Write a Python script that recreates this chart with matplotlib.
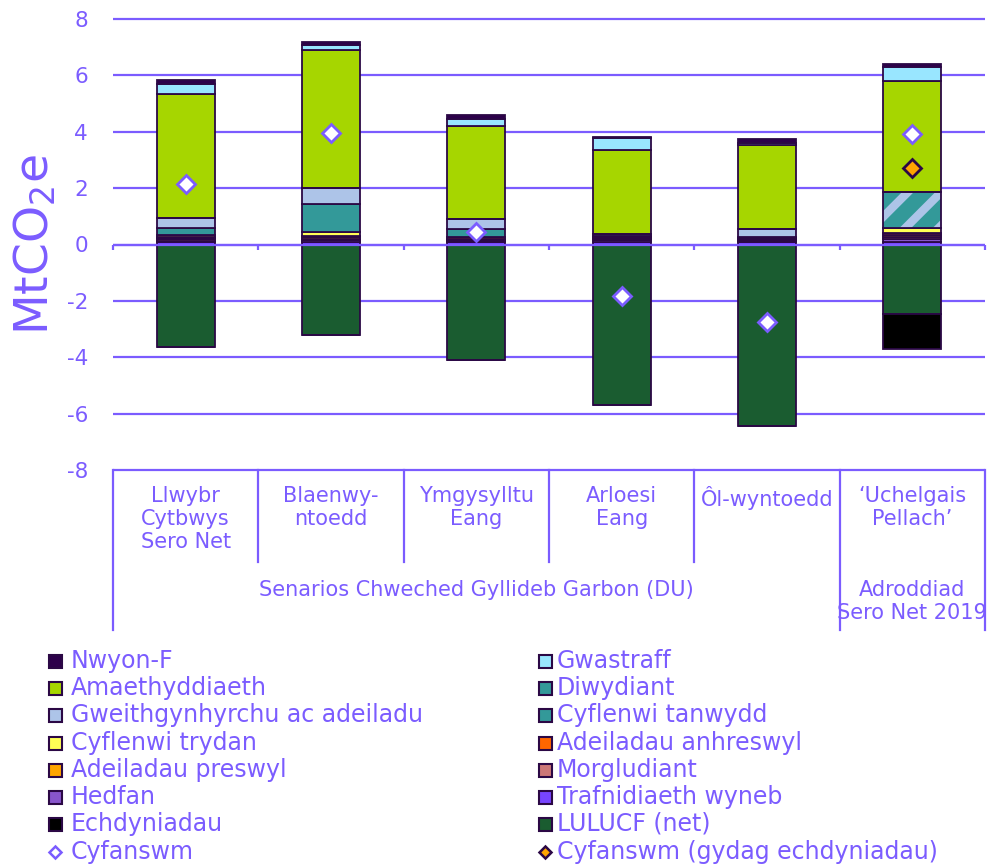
import numpy as np
import matplotlib
matplotlib.use("Agg")
import matplotlib.pyplot as plt
from matplotlib.patches import Rectangle
from matplotlib.lines import Line2D
from matplotlib.transforms import blended_transform_factory

plt.rcParams['font.family'] = ['DejaVu Sans']
plt.rcParams['hatch.linewidth'] = 6

# ---------------- data ----------------
categories = ["Llwybr\nCytbwys\nSero Net", "Blaenwy-\nntoedd", "Ymgysylltu\nEang",
              "Arloesi\nEang", "Ôl-wyntoedd", "‘Uchelgais\nPellach’"]
groups = ["Senarios Chweched Gyllideb Garbon (DU)", "Adroddiad\nSero Net 2019"]
group_spans = [(0, 5), (5, 6)]

# positive sectors, stacked bottom-up
traf      = [0.08, 0.10, 0.08, 0.10, 0.08, 0.10]
hedfan    = [0.06, 0.06, 0.05, 0.06, 0.05, 0.10]
morg      = [0.04, 0.04, 0.04, 0.04, 0.03, 0.07]
preswyl   = [0.04, 0.05, 0.04, 0.04, 0.02, 0.08]
anhreswyl = [0.04, 0.05, 0.04, 0.04, 0.02, 0.05]
trydan    = [0.08, 0.15, 0.02, 0.02, 0.02, 0.18]
tanwydd   = [0.25, 0.98, 0.27, 0.06, 0.06, 0.00]
gweith    = [0.36, 0.59, 0.35, 0.02, 0.26, 0.00]
diwydiant = [0.00, 0.00, 0.00, 0.00, 0.00, 1.28]
amaeth    = [4.38, 4.87, 3.30, 2.96, 2.98, 3.93]
gwastraff = [0.38, 0.20, 0.27, 0.44, 0.09, 0.52]
nwyon_f   = [0.12, 0.10, 0.12, 0.04, 0.13, 0.08]
# negative
lulucf      = [-3.64, -3.21, -4.10, -5.69, -6.44, -2.48]
echdyniadau = [0.00, 0.00, 0.00, 0.00, 0.00, -1.23]
# totals
cyfanswm = [2.15, 3.96, 0.44, -1.83, -2.75, 3.92]
cyfanswm_echd = [np.nan, np.nan, np.nan, np.nan, np.nan, 2.71]

VIOLET = '#7B5CFF'
EDGE = '#2B0845'

pos_series = [
    ("Trafnidiaeth wyneb", traf, '#7744FF'),
    ("Hedfan", hedfan, '#8855CC'),
    ("Morgludiant", morg, '#CC7777'),
    ("Adeiladau preswyl", preswyl, '#FFA500'),
    ("Adeiladau anhreswyl", anhreswyl, '#FF6600'),
    ("Cyflenwi trydan", trydan, '#FFFF55'),
    ("Cyflenwi tanwydd", tanwydd, '#339999'),
    ("Gweithgynhyrchu ac adeiladu", gweith, '#ADC4E8'),
    ("Diwydiant", diwydiant, '#339999'),
    ("Amaethyddiaeth", amaeth, '#A6D600'),
    ("Gwastraff", gwastraff, '#99E6FF'),
    ("Nwyon-F", nwyon_f, '#2D004B'),
]
neg_series = [
    ("LULUCF (net)", lulucf, '#1A5C30'),
    ("Echdyniadau", echdyniadau, '#000000'),
]
colors = {n: c for n, _, c in pos_series + neg_series}

W, H = 998, 867
fig = plt.figure(figsize=(W / 100, H / 100), dpi=100)
ax = fig.add_axes([113 / W, 1 - 470 / H, (985 - 113) / W, (470 - 19) / H])
ax.set_xlim(0, 6)
ax.set_ylim(-8, 8)
for s in ax.spines.values():
    s.set_visible(False)

x = np.arange(len(categories)) + 0.5
bw = 0.4

yt = np.arange(-8, 9, 2)
ax.hlines(yt, 0, 6, color=VIOLET, lw=1.6, zorder=0.5, clip_on=False)
ax.set_yticks(yt)
ax.set_yticklabels([str(v) for v in yt])
ax.tick_params(axis='y', length=0, pad=18, labelsize=15.5, labelcolor=VIOLET)
ax.set_xticks([])

bottom = np.zeros(len(categories))
for name, vals, col in pos_series:
    v = np.array(vals)
    if name == "Diwydiant":
        ax.bar(x, v, bw, bottom=bottom, color=col, edgecolor='#ADC4E8', lw=0,
               hatch='/', zorder=2)
        ax.bar(x, v, bw, bottom=bottom, fill=False, edgecolor=EDGE, lw=1.3, zorder=2.1)
    else:
        ax.bar(x, v, bw, bottom=bottom, color=col, edgecolor=EDGE, lw=1.3, zorder=2)
    bottom += v

nbottom = np.zeros(len(categories))
for name, vals, col in neg_series:
    v = np.array(vals)
    ax.bar(x, v, bw, bottom=nbottom, color=col, edgecolor=EDGE, lw=1.3, zorder=2)
    nbottom += v

# zero axis with boundary ticks
ax.axhline(0, color=VIOLET, lw=1.6, zorder=5)
ax.vlines(np.arange(7), -0.18, 0, color=VIOLET, lw=1.6, zorder=5, clip_on=False)

ax.plot(x, cyfanswm, ls='none', marker='D', ms=9, mfc='white', mec=VIOLET, mew=2, zorder=6)
ax.plot(x, cyfanswm_echd, ls='none', marker='D', ms=9, mfc='#FFA500', mec=EDGE, mew=2, zorder=6)

# y label
fig.text(35 / W, 1 - 245 / H, r'MtCO$_\mathregular{2}$e', rotation=90, ha='center', va='center',
         fontsize=34, color=VIOLET)

# category table
tr = blended_transform_factory(ax.transData, fig.transFigure)
fy = lambda p: 1 - p / H
for b in range(7):
    bot = 630 if b in (0, 5, 6) else 562
    ax.plot([b, b], [fy(470), fy(bot)], color=VIOLET, lw=1.6, transform=tr, clip_on=False)
for i, lab in enumerate(categories):
    ax.text(x[i], fy(486), lab, transform=tr, ha='center', va='top', fontsize=15,
            color=VIOLET, linespacing=1.2)
for (a, b), lab in zip(group_spans, groups):
    ax.text((a + b) / 2, fy(580), lab, transform=tr, ha='center', va='top', fontsize=15,
            color=VIOLET, linespacing=1.2)

# legend (manual, two columns)
left_col = ["Nwyon-F", "Amaethyddiaeth", "Gweithgynhyrchu ac adeiladu", "Cyflenwi trydan",
            "Adeiladau preswyl", "Hedfan", "Echdyniadau", "Cyfanswm"]
right_col = ["Gwastraff", "Diwydiant", "Cyflenwi tanwydd", "Adeiladau anhreswyl",
             "Morgludiant", "Trafnidiaeth wyneb", "LULUCF (net)", "Cyfanswm (gydag echdyniadau)"]
rows = [661, 688, 715, 743, 770, 797, 824, 852]
for col_items, mx, tx in ((left_col, 49, 71), (right_col, 539, 557)):
    for name, ry in zip(col_items, rows):
        if name.startswith("Cyfanswm"):
            fc = 'white' if name == "Cyfanswm" else '#FFA500'
            ec = VIOLET if name == "Cyfanswm" else EDGE
            fig.add_artist(Line2D([(mx + 6) / W], [fy(ry)], marker='D', ms=6.5, mfc=fc,
                                  mec=ec, mew=1.8, transform=fig.transFigure))
        else:
            fig.add_artist(Rectangle((mx / W, fy(ry + 6.5)), 13 / W, 13 / H, facecolor=colors[name],
                                     edgecolor=EDGE, lw=1.5, transform=fig.transFigure))
        fig.text(tx / W, fy(ry), name, ha='left', va='center', fontsize=17, color=VIOLET)

fig.savefig("out.png", dpi=100)
